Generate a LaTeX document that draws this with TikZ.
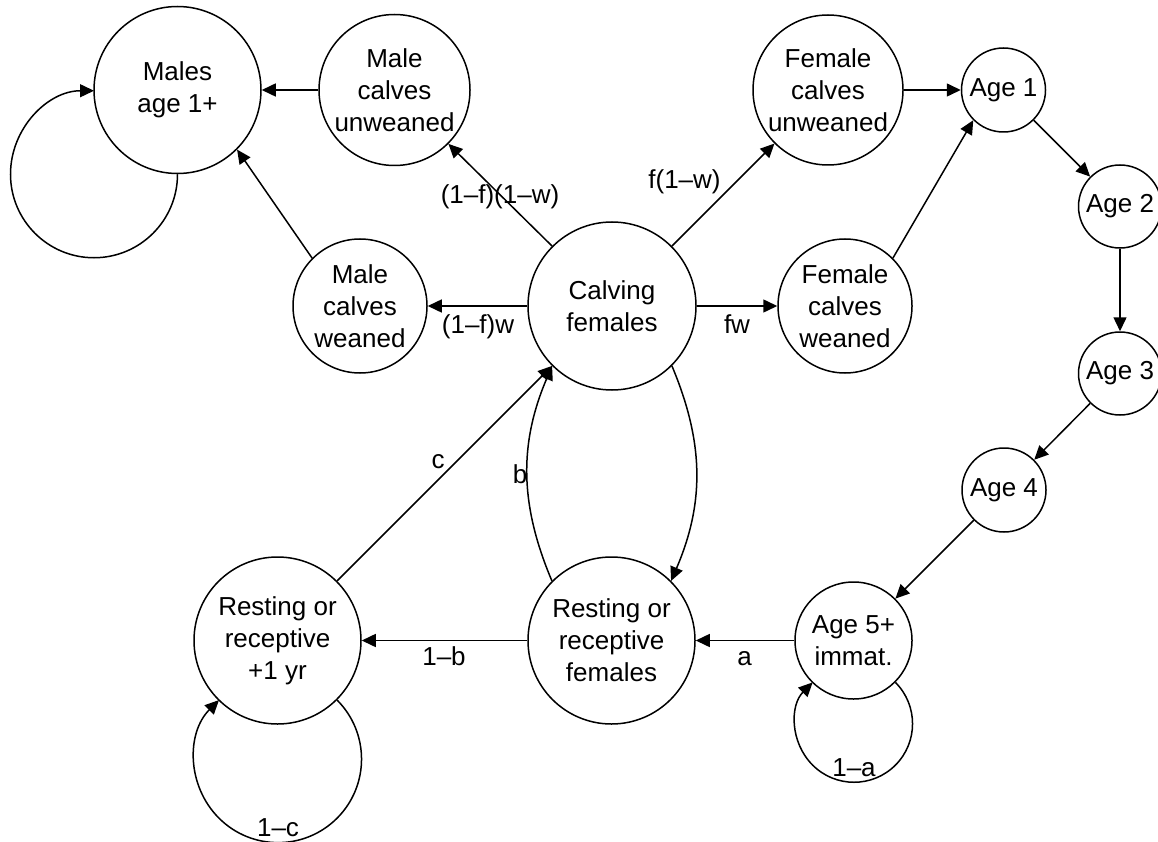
\documentclass[tikz,border=0pt]{standalone}
\usepackage{fontspec}
\setmainfont{Liberation Sans}
\usetikzlibrary{arrows.meta}
\begin{document}
\begin{tikzpicture}[x=1pt,y=1pt,
  state/.style={draw, circle, line width=1.5pt, inner sep=0pt, align=center, font=\fontsize{26}{32}\selectfont},
  arr/.style={line width=1.5pt, -{Triangle[length=14pt,width=13pt]}},
  lbl/.style={inner sep=0pt, anchor=base, font=\fontsize{26}{32}\selectfont}]
\useasboundingbox (0,0) rectangle (1158,-842);

% states
\node[state, minimum size=167pt] (males) at (177.5,-90) {Males\\age 1+};
\node[state, minimum size=151pt] (mcu) at (394.5,-90) {Male\\calves\\unweaned};
\node[state, minimum size=134pt] (mcw) at (360,-306) {Male\\calves\\weaned};
\node[state, minimum size=168pt] (calv) at (612,-306) {Calving\\females};
\node[state, minimum size=150pt] (fcu) at (828,-90) {Female\\calves\\unweaned};
\node[state, minimum size=134pt] (fcw) at (845,-306) {Female\\calves\\weaned};
\node[state, minimum size=84pt] (age1) at (1003.5,-90) {Age 1};
\node[state, minimum size=83pt] (age2) at (1120,-206.5) {Age 2};
\node[state, minimum size=83pt] (age3) at (1120,-373.5) {Age 3};
\node[state, minimum size=84pt] (age4) at (1004,-490) {Age 4};
\node[state, minimum size=117pt] (age5) at (853.5,-640.5) {Age 5+\\immat.};
\node[state, minimum size=167pt] (rest) at (611.5,-640.5) {Resting or\\receptive\\females};
\node[state, minimum size=167pt] (rest1) at (277.5,-640.5) {Resting or\\receptive\\+1 yr};

% connectors
\draw[arr] (mcu.west) -- (males.east);
\draw[arr] (mcw.north west) -- (males.south east);
\draw[arr] (calv.north west) -- (mcu.south east);
\draw[arr] (calv.west) -- (mcw.east);
\draw[arr] (calv.north east) -- (fcu.south west);
\draw[arr] (calv.east) -- (fcw.west);
\draw[arr] (fcu.east) -- (age1.west);
\draw[arr] (fcw.north east) -- (age1.south west);
\draw[arr] (age1.south east) -- (age2.north west);
\draw[arr] (age2.south) -- (age3.north);
\draw[arr] (age3.south west) -- (age4.north east);
\draw[arr] (age4.south west) -- (age5.north east);
\draw[arr] (age5.west) -- (rest.east);
\draw[arr] (rest.west) -- (rest1.east);
\draw[arr] (rest1.north east) -- (calv.south west);
\draw[arr] (rest.north west) to[bend left=23] (calv.south west);
\draw[arr] (calv.south east) to[bend left=23] (rest.north east);

% self loops
\draw[arr] (males.south) arc[start angle=0, end angle=-270, radius=83.5pt];
\draw[arr] (rest1.south east) arc[start angle=45, end angle=-225, radius=83.5pt];
\draw[arr] (age5.south east) arc[start angle=45, end angle=-225, radius=58.5pt];

% labels
\node[lbl] (l-ffw) at (500,-204) {(1–f)(1–w)};
\node[lbl] (l-fw1) at (478,-333) {(1–f)w};
\node[lbl] (l-f1w) at (684.5,-189) {f(1–w)};
\node[lbl] (l-fw) at (737,-333) {fw};
\node[lbl] (l-a) at (744.5,-665) {a};
\node[lbl] (l-1b) at (444,-665) {1–b};
\node[lbl] (l-c) at (438,-468) {c};
\node[lbl] (l-b) at (520,-483) {b};
\node[lbl] (l-1a) at (854,-776) {1–a};
\node[lbl] (l-1c) at (278,-836) {1–c};
\end{tikzpicture}
\end{document}
